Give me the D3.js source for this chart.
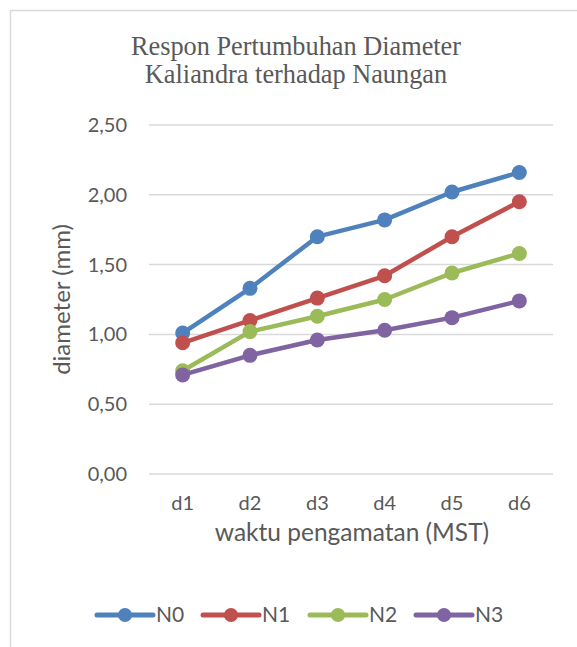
<!DOCTYPE html>
<html>
<head>
<meta charset="utf-8">
<script src="https://cdn.jsdelivr.net/npm/d3@7"></script>
<style>
  html, body { margin: 0; padding: 0; background: #fff; }
  svg { display: block; }
</style>
</head>
<body>
<svg id="chart" width="577" height="647"></svg>
<script>
const categories = ["d1", "d2", "d3", "d4", "d5", "d6"];
const seriesNames = ["N0", "N1", "N2", "N3"];
const N0 = [1.01, 1.33, 1.70, 1.82, 2.02, 2.16];
const N1 = [0.94, 1.10, 1.26, 1.42, 1.70, 1.95];
const N2 = [0.74, 1.02, 1.13, 1.25, 1.44, 1.58];
const N3 = [0.71, 0.85, 0.96, 1.03, 1.12, 1.24];
const yTicks = [0, 0.5, 1.0, 1.5, 2.0, 2.5];
const colors = ["#4f81bd", "#c0504d", "#9bbb59", "#8064a2"];
const titleLines = ["Respon Pertumbuhan Diameter", "Kaliandra terhadap Naungan"];
const xTitle = "waktu pengamatan (MST)";
const yTitle = "diameter (mm)";

const seriesData = [N0, N1, N2, N3];
const sansFont = "Lato, 'Open Sans', sans-serif";
const textColor = "#595959";

const svg = d3.select("#chart");

// chart border (cropped at right/bottom)
svg.append("rect")
  .attr("x", 10.5).attr("y", 10.5)
  .attr("width", 700).attr("height", 800)
  .attr("fill", "#fff").attr("stroke", "#d9d9d9").attr("stroke-width", 1.5);

const plot = { left: 149, right: 553, top: 125, bottom: 474 };

const x = d3.scaleBand().domain(categories).range([plot.left, plot.right]);
const y = d3.scaleLinear().domain([0, 2.5]).range([plot.bottom, plot.top]);

// title
svg.append("g").selectAll("text").data(titleLines).join("text")
  .attr("x", 296)
  .attr("y", (d, i) => 55 + i * 28)
  .attr("text-anchor", "middle")
  .attr("font-family", "'Liberation Serif', 'Times New Roman', serif")
  .attr("font-size", 26.3)
  .attr("fill", textColor)
  .text(d => d);

// gridlines
svg.append("g").selectAll("line").data(yTicks).join("line")
  .attr("x1", plot.left).attr("x2", plot.right)
  .attr("y1", d => y(d)).attr("y2", d => y(d))
  .attr("stroke", "#d9d9d9").attr("stroke-width", 1.5);

// y axis
const yAxis = d3.axisLeft(y).tickValues(yTicks)
  .tickFormat(d => d3.format(".2f")(d).replace(".", ","))
  .tickSize(0).tickPadding(0);
const yG = svg.append("g").attr("transform", `translate(${plot.left - 22},0)`).call(yAxis);
yG.select(".domain").remove();
yG.selectAll("text").attr("font-family", sansFont).attr("font-size", 20).attr("fill", textColor);

// x axis
const xAxis = d3.axisBottom(x).tickSize(0).tickPadding(0);
const xG = svg.append("g").attr("transform", `translate(0,${plot.bottom + 22})`).call(xAxis);
xG.select(".domain").remove();
xG.selectAll("text").attr("font-family", sansFont).attr("font-size", 20).attr("fill", textColor);

// axis titles
svg.append("text")
  .attr("x", (plot.left + plot.right) / 2 + 1).attr("y", 541)
  .attr("text-anchor", "middle")
  .attr("font-family", sansFont).attr("font-size", 24.5).attr("fill", textColor)
  .text(xTitle);

svg.append("text")
  .attr("transform", `translate(70,${(plot.top + plot.bottom) / 2}) rotate(-90)`)
  .attr("text-anchor", "middle")
  .attr("font-family", sansFont).attr("font-size", 24).attr("fill", textColor)
  .text(yTitle);

// lines
const line = d3.line()
  .x((d, i) => x(categories[i]) + x.bandwidth() / 2)
  .y(d => y(d));

const sG = svg.append("g").selectAll("g").data(seriesData).join("g");
sG.append("path")
  .attr("d", d => line(d))
  .attr("fill", "none")
  .attr("stroke", (d, i) => colors[i])
  .attr("stroke-width", 4.5)
  .attr("stroke-linejoin", "round")
  .attr("stroke-linecap", "round");
sG.each(function(d, si) {
  d3.select(this).selectAll("circle").data(d).join("circle")
    .attr("cx", (v, i) => x(categories[i]) + x.bandwidth() / 2)
    .attr("cy", v => y(v))
    .attr("r", 7.5)
    .attr("fill", colors[si]);
});

// legend
const legendX = [97, 203, 310, 416];
const lg = svg.append("g").selectAll("g").data(seriesNames).join("g")
  .attr("transform", (d, i) => `translate(${legendX[i]},615)`);
lg.append("line")
  .attr("x1", 0).attr("x2", 56).attr("y1", 0).attr("y2", 0)
  .attr("stroke", (d, i) => colors[i]).attr("stroke-width", 5)
  .attr("stroke-linecap", "round");
lg.append("circle").attr("cx", 28).attr("cy", 0).attr("r", 7)
  .attr("fill", (d, i) => colors[i]);
lg.append("text")
  .attr("x", 59).attr("y", 0).attr("dy", "0.35em")
  .attr("font-family", sansFont).attr("font-size", 21).attr("fill", textColor)
  .text(d => d);
</script>
</body>
</html>
